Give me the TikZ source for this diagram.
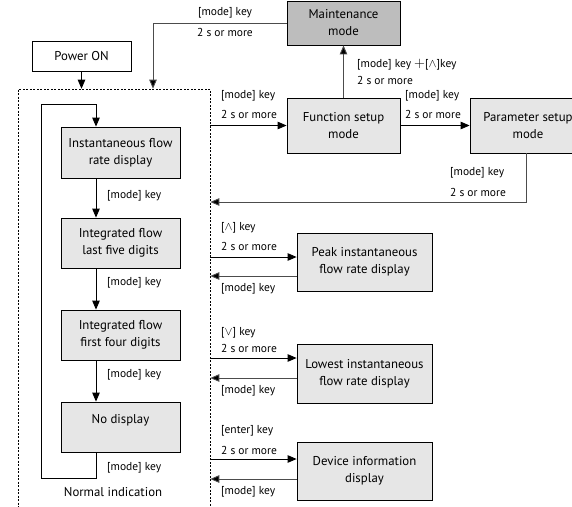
\documentclass[tikz,border=0pt]{standalone}
\usepackage{fontspec}
\setmainfont{PT Sans}
\usetikzlibrary{arrows.meta}
\definecolor{boxgray}{HTML}{E6E6E6}
\definecolor{darkbox}{HTML}{BDBDBD}
\tikzset{
  box/.style={draw, line width=0.8pt, fill=boxgray, align=center, font=\fontsize{12.8}{17}\selectfont, inner sep=0pt},
  wbox/.style={box, fill=white},
  dbox/.style={box, fill=darkbox},
  arr/.style={line width=0.9pt, -{Triangle[length=9pt,width=7.5pt]}},
  garr/.style={arr, draw=black!70, -{Triangle[length=9pt,width=7.5pt,fill=black]}},
  lbl/.style={font=\fontsize{11.5}{13}\selectfont, inner sep=0pt, anchor=west},
  dashbox/.style={draw, line width=0.6pt, dash pattern=on 2pt off 1.5pt, inner sep=0pt}
}
\begin{document}
\begin{tikzpicture}[x=1pt,y=-1pt]
\useasboundingbox (0,0) rectangle (572,506);
% dashed region
\node[dashbox, minimum width=192pt, minimum height=431pt] (normal) at (114,304.5) {};
% boxes
\node[wbox, minimum width=99pt, minimum height=30pt] (power) at (81.5,56) {Power ON};
\node[dbox, minimum width=113pt, minimum height=44pt] (maint) at (343.5,23) {Maintenance\\mode};
\node[box, minimum width=113pt, minimum height=55pt] (func) at (343.5,125.5) {Function setup\\mode};
\node[box, minimum width=116pt, minimum height=55pt] (param) at (528,125.5) {Parameter setup\\mode};
\node[box, minimum width=119pt, minimum height=51pt] (inst) at (120.5,152.5) {Instantaneous flow\\rate display};
\node[box, minimum width=119pt, minimum height=50pt] (int5) at (120.5,243) {Integrated flow\\last five digits};
\node[box, minimum width=119pt, minimum height=50pt] (int4) at (120.5,335) {Integrated flow\\first four digits};
\node[box, minimum width=119pt, minimum height=50pt, text height=9pt, text depth=17pt] (nodisp) at (120.5,427) {No display};
\node[box, minimum width=135pt, minimum height=58pt] (peak) at (364.5,262) {Peak instantaneous\\flow rate display};
\node[box, minimum width=135pt, minimum height=59pt] (lowest) at (364.5,373.5) {Lowest instantaneous\\flow rate display};
\node[box, minimum width=135pt, minimum height=58pt] (device) at (364.5,471) {Device information\\display};
% connectors
\draw[arr] (power.south) -- (power.south |- normal.north);
\draw[garr] (maint.west) -| ([xshift=39pt]normal.north);
\draw[garr] (func.north) -- (maint.south);
\draw[arr] (func.west -| normal.east) -- (func.west);
\draw[arr] (func.east) -- (param.west);
\draw[garr] ([xshift=-2pt]param.south) |- ([yshift=102.5pt]normal.east);
\draw[arr] ([xshift=-24.5pt]inst.south) -- ([xshift=-24.5pt]int5.north);
\draw[arr] ([xshift=-24.5pt]int5.south) -- ([xshift=-24.5pt]int4.north);
\draw[arr] ([xshift=-24.5pt]int4.south) -- ([xshift=-24.5pt]nodisp.north);
\draw[arr] ([xshift=-24.5pt]nodisp.south) -- ++(0,26) -| ++(-55,-374) -| ([xshift=-24.5pt]inst.north);
\draw[arr] ([yshift=5pt]peak.west -| normal.east) -- ([yshift=5pt]peak.west);
\draw[garr] ([yshift=-14pt]peak.west) -- ([yshift=-14pt]peak.west -| normal.east);
\draw[arr] ([yshift=15.5pt]lowest.west -| normal.east) -- ([yshift=15.5pt]lowest.west);
\draw[garr] ([yshift=-4.5pt]lowest.west) -- ([yshift=-4.5pt]lowest.west -| normal.east);
\draw[arr] ([yshift=12pt]device.west -| normal.east) -- ([yshift=12pt]device.west);
\draw[garr] ([yshift=-8pt]device.west) -- ([yshift=-8pt]device.west -| normal.east);
% labels
\node[lbl, anchor=center] (t1) at (225,13) {[mode] key};
\node[lbl, anchor=center] (t2) at (225,32) {2 s or more};
\node[lbl] (f1) at (221,96) {[mode] key};
\node[lbl] (f2) at (221,114) {2 s or more};
\node[lbl] (p1) at (405,96) {[mode] key};
\node[lbl] (p2) at (405,114) {2 s or more};
\node[lbl] (m1) at (357,65) {[mode] key {\fontsize{14}{14}\selectfont$+$}[$\wedge$]key};
\node[lbl] (m2) at (357,80) {2 s or more};
\node[lbl] (r1) at (450,173) {[mode] key};
\node[lbl] (r2) at (450,192) {2 s or more};
\node[lbl] (c1) at (107,196) {[mode] key};
\node[lbl] (c2) at (107,283) {[mode] key};
\node[lbl] (c3) at (107,375) {[mode] key};
\node[lbl] (c4) at (107,468) {[mode] key};
\node[lbl, font=\fontsize{12.8}{15}\selectfont, anchor=center] (ni) at (113,492) {Normal indication};
\node[lbl] (a1) at (221,228) {[{\fontsize{13}{13}\selectfont$\wedge$}] key};
\node[lbl] (a2) at (221,246) {2 s or more};
\node[lbl] (a3) at (221,289) {[mode] key};
\node[lbl] (b1) at (221,333) {[{\fontsize{13}{13}\selectfont$\vee$}] key};
\node[lbl] (b2) at (221,348) {2 s or more};
\node[lbl] (b3) at (221,391) {[mode] key};
\node[lbl] (e1) at (221,431) {[enter] key};
\node[lbl] (e2) at (221,450) {2 s or more};
\node[lbl] (e3) at (221,492) {[mode] key};
\end{tikzpicture}
\end{document}
